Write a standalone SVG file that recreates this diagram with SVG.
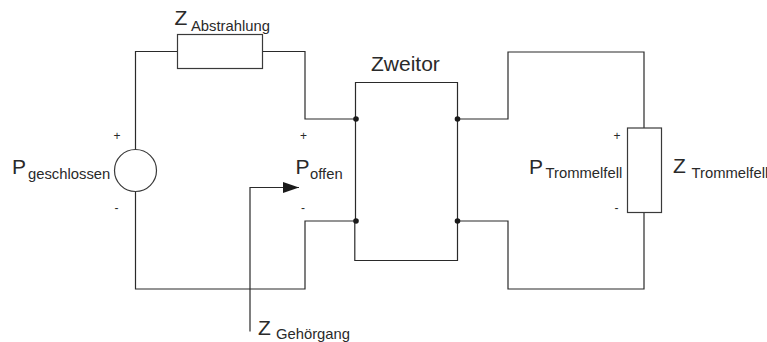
<svg xmlns="http://www.w3.org/2000/svg" width="767" height="342" viewBox="0 0 767 342">
<defs>
<style>
.w{fill:none;stroke:#2a2a2a;stroke-width:1.2}
.b{fill:#fff;stroke:#3a3a3a;stroke-width:1.2}
text{font-family:"Liberation Sans",Arial,sans-serif;fill:#2a2a2a}
.l{font-size:21px}
.s{font-size:14.8px}
.p{font-size:12px}
.d{fill:#1a1a1a}
</style>
<marker id="ah" markerUnits="userSpaceOnUse" markerWidth="17" markerHeight="11" refX="16" refY="5.5" orient="auto"><path d="M0 0L16 5.5L0 11Z" fill="#1a1a1a"/></marker>
</defs>
<rect width="767" height="342" fill="#fff"/>
<g id="connectors">
<path class="w" d="M178 51.5H135.5V149M135.5 191.5V289H305V221H356"/>
<path class="w" d="M262 51.5H305V119H356"/>
<path class="w" d="M457.5 119H508V52H644V128M644 212V289H508V221H457.5"/>
<path class="w" d="M250 331.5V187.5H299" marker-end="url(#ah)"/>
</g>
<g id="zweitor">
<path class="w" d="M355.5 119V82.5H457.5V221V260.5H354.8V221H355.5V119"/>
<circle class="d" cx="356" cy="119" r="2.8"/>
<circle class="d" cx="356" cy="221" r="2.8"/>
<circle class="d" cx="457.5" cy="119" r="2.8"/>
<circle class="d" cx="457.5" cy="221" r="2.8"/>
<text class="l" x="371" y="71">Zweitor</text>
</g>
<g id="z-abstrahlung">
<rect class="b" x="177.5" y="34.5" width="85" height="34"/>
<text class="l" x="174.5" y="24.5">Z</text>
<text class="s" x="191" y="30.5">Abstrahlung</text>
</g>
<g id="p-geschlossen">
<circle class="b" cx="135.5" cy="170.5" r="21"/>
<text class="l" x="12" y="174">P</text>
<text class="s" x="28" y="179">geschlossen</text>
<text class="p" x="113.5" y="140">+</text>
<text class="p" x="114.5" y="212">-</text>
</g>
<g id="p-offen">
<text class="l" x="295.5" y="174">P</text>
<text class="s" x="310" y="178.5">offen</text>
<text class="p" x="300" y="140">+</text>
<text class="p" x="301" y="212">-</text>
</g>
<g id="z-gehoergang">
<text class="l" x="258" y="335">Z</text>
<text class="s" x="276" y="339">Gehörgang</text>
</g>
<g id="z-trommelfell">
<rect class="b" x="627.5" y="128" width="34" height="84.5"/>
<text class="l" x="673" y="173">Z</text>
<text class="s" x="691.5" y="178">Trommelfell</text>
</g>
<g id="p-trommelfell">
<text class="l" x="529" y="174">P</text>
<text class="s" x="545.5" y="178">Trommelfell</text>
<text class="p" x="613.5" y="140">+</text>
<text class="p" x="614.5" y="212">-</text>
</g>
</svg>
